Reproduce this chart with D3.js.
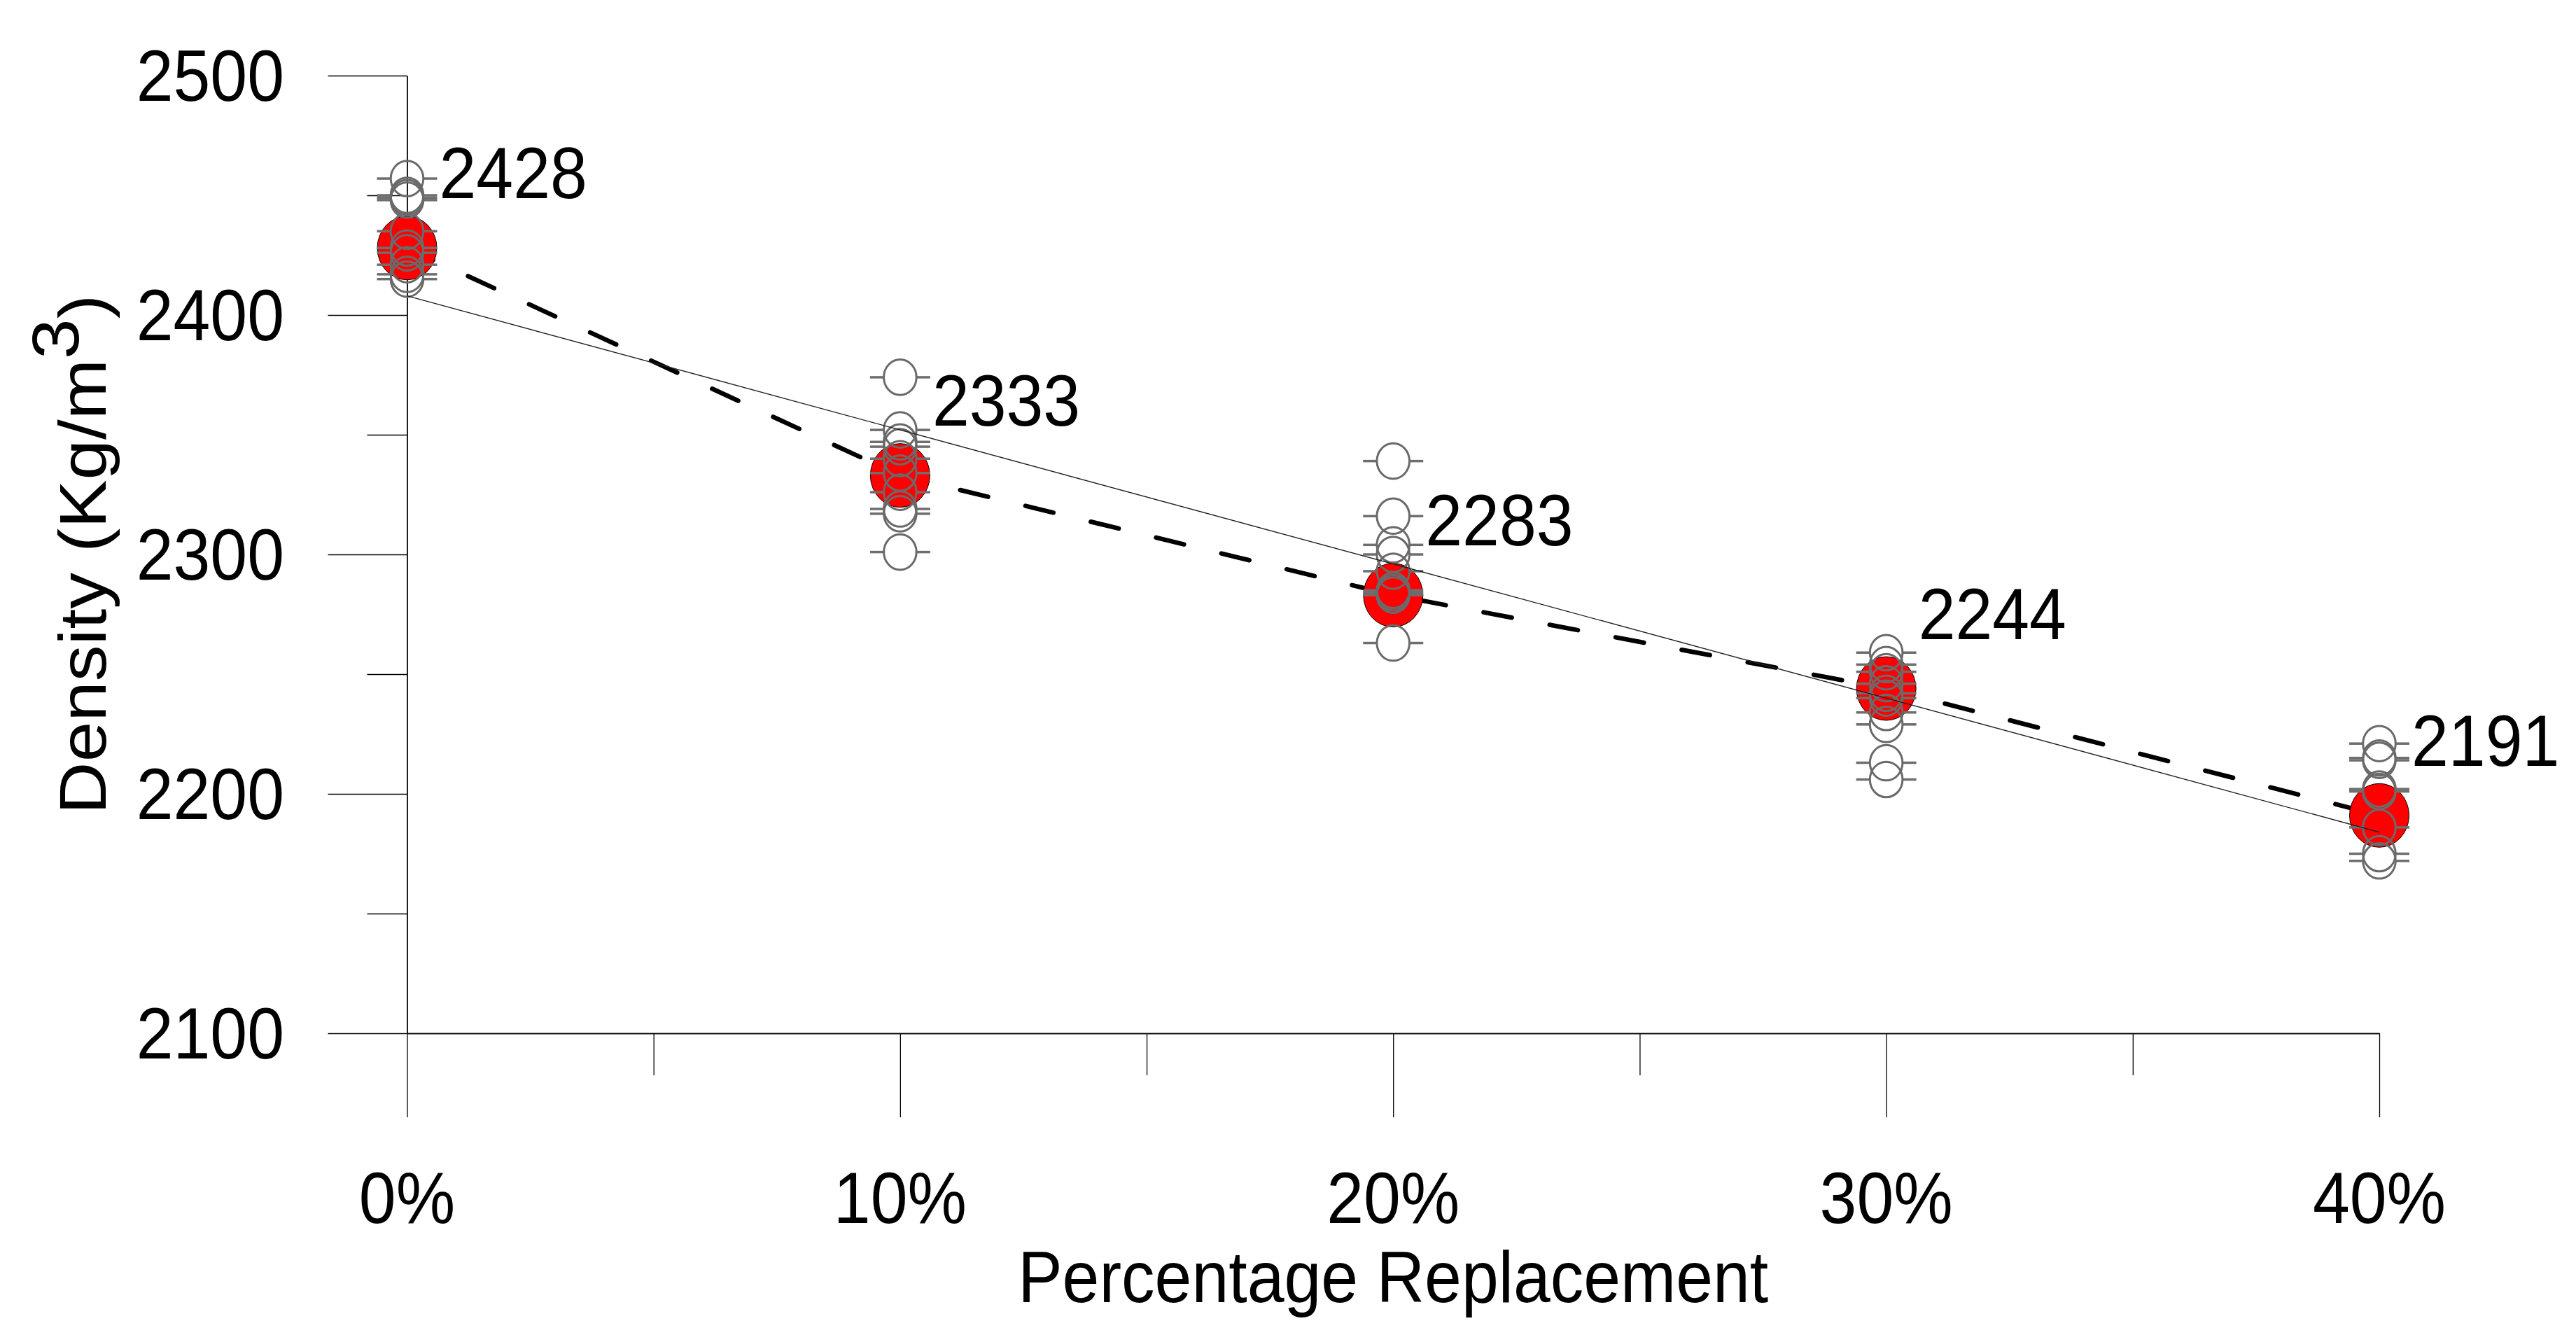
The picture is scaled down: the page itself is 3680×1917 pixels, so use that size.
<!DOCTYPE html>
<html>
<head>
<meta charset="utf-8">
<script src="https://cdn.jsdelivr.net/npm/d3@7"></script>
<style>
body { margin: 0; background: #fff; }
text { font-family: "Liberation Sans", Arial, sans-serif; fill: #000; }
</style>
</head>
<body>
<div id="chart"></div>
<script>
// percentage replacement (x) and mean density labels
var replacement = [0, 10, 20, 30, 40];
var xTickLabels = ["0%", "10%", "20%", "30%", "40%"];
var xMinor = [5, 15, 25, 35];
var meanDensity = [2428, 2333, 2283, 2244, 2191];

// individual specimen densities
var samples0 = [2457, 2450, 2449, 2448, 2435, 2428, 2426, 2421, 2417, 2415];
var samples10 = [2374, 2352, 2347, 2345, 2340, 2334, 2326, 2319, 2317, 2301];
var samples20 = [2339, 2316, 2304, 2300, 2293, 2285, 2284, 2283, 2263];
var samples30 = [2259, 2254, 2251, 2246, 2242, 2240, 2234, 2229, 2213, 2206];
var samples40 = [2221, 2215, 2214, 2202, 2201, 2186, 2175, 2172];

// thin linear trend line, value at 0% and at 40%
var trendEnds = [2408, 2184];

var yTicks = [2100, 2200, 2300, 2400, 2500];
var yMinor = [2150, 2250, 2350, 2450];

var W = 3680, H = 1917;
var sy = 1.09; // the original picture is stretched a little vertically
var fs = "95px";

var svg = d3.select("#chart").append("svg")
  .attr("width", W)
  .attr("height", H)
  .style("background", "#fff");

var x = d3.scaleLinear().domain([0, 40]).range([581.5, 3399]);
var y = d3.scaleLinear().domain([2100, 2500]).range([1476, 108]);

function styleAxis(g) {
  g.attr("color", "#000");
  g.selectAll("path, line").attr("stroke-width", 1.3);
}

// x axis: long major ticks, short minor ticks
svg.append("g")
  .attr("transform", "translate(0," + y(2100) + ")")
  .call(d3.axisBottom(x).tickValues(replacement).tickSize(120).tickSizeOuter(0).tickFormat(""))
  .call(styleAxis);
svg.append("g")
  .attr("transform", "translate(0," + y(2100) + ")")
  .call(d3.axisBottom(x).tickValues(xMinor).tickSize(60).tickSizeOuter(0).tickFormat(""))
  .call(styleAxis);

// y axis
svg.append("g")
  .attr("transform", "translate(" + x(0) + ",0)")
  .call(d3.axisLeft(y).tickValues(yTicks).tickSize(113).tickSizeOuter(0).tickFormat(""))
  .call(styleAxis);
svg.append("g")
  .attr("transform", "translate(" + x(0) + ",0)")
  .call(d3.axisLeft(y).tickValues(yMinor).tickSize(57).tickSizeOuter(0).tickFormat(""))
  .call(styleAxis);

// tick labels
svg.selectAll(".ylab").data(yTicks).enter().append("text")
  .attr("class", "ylab")
  .attr("transform", function(d) { return "translate(406," + (y(d) + 36) + ") scale(1," + sy + ")"; })
  .attr("text-anchor", "end")
  .style("font-size", fs)
  .text(function(d) { return d; });

svg.selectAll(".xlab").data(replacement).enter().append("text")
  .attr("class", "xlab")
  .attr("transform", function(d) { return "translate(" + x(d) + ",1747) scale(1," + sy + ")"; })
  .attr("text-anchor", "middle")
  .style("font-size", fs)
  .text(function(d, i) { return xTickLabels[i]; });

// axis titles
svg.append("text")
  .attr("transform", "translate(" + x(20) + ",1860) scale(1," + sy + ")")
  .attr("text-anchor", "middle")
  .style("font-size", fs)
  .text("Percentage Replacement");

var yt = svg.append("text")
  .attr("transform", "translate(151,792) scale(1," + sy + ") rotate(-90)")
  .attr("text-anchor", "middle")
  .style("font-size", fs);
yt.append("tspan").text("Density (Kg/m");
yt.append("tspan").attr("dy", -39).text("3");
yt.append("tspan").attr("dy", 39).text(")");

// dashed line through the means
var means = replacement.map(function(r, i) { return {x: r, y: meanDensity[i]}; });
svg.append("path")
  .datum(means)
  .attr("fill", "none")
  .attr("stroke", "#000")
  .attr("stroke-width", 6.5)
  .attr("stroke-linecap", "round")
  .attr("stroke-dasharray", "41,55")
  .attr("d", d3.line().x(function(d) { return x(d.x); }).y(function(d) { return y(d.y); }));

// red mean markers
svg.selectAll(".mean").data(means).enter().append("ellipse")
  .attr("class", "mean")
  .attr("cx", function(d) { return x(d.x); })
  .attr("cy", function(d) { return y(d.y); })
  .attr("rx", 42.5)
  .attr("ry", 45.5)
  .attr("fill", "#ff0000")
  .attr("stroke", "#000")
  .attr("stroke-width", 1);

// individual specimens: open circle with a short bar each side
var allSamples = [samples0, samples10, samples20, samples30, samples40];
var pts = [];
allSamples.forEach(function(arr, i) {
  arr.forEach(function(v) { pts.push({x: replacement[i], y: v}); });
});
var rx = 23.3, ry = 25.3, half = 43;

var sp = svg.selectAll(".sample").data(pts).enter().append("g")
  .attr("class", "sample")
  .attr("transform", function(d) { return "translate(" + x(d.x) + "," + y(d.y) + ")"; });
sp.append("line")
  .attr("x1", -half).attr("x2", -rx).attr("y1", 0).attr("y2", 0)
  .attr("stroke", "#6e6e6e").attr("stroke-width", 3.5);
sp.append("line")
  .attr("x1", rx).attr("x2", half).attr("y1", 0).attr("y2", 0)
  .attr("stroke", "#6e6e6e").attr("stroke-width", 3.5);
sp.append("ellipse")
  .attr("rx", rx).attr("ry", ry)
  .attr("fill", "none")
  .attr("stroke", "#6a6a6a")
  .attr("stroke-width", 3);

// thin trend line
svg.append("line")
  .attr("x1", x(0)).attr("y1", y(trendEnds[0]))
  .attr("x2", x(40)).attr("y2", y(trendEnds[1]))
  .attr("stroke", "#222")
  .attr("stroke-width", 1.4);

// mean value labels
svg.selectAll(".vlab").data(means).enter().append("text")
  .attr("class", "vlab")
  .attr("transform", function(d) { return "translate(" + (x(d.x) + 46) + "," + (y(d.y) - 71) + ") scale(1," + sy + ")"; })
  .style("font-size", fs)
  .text(function(d) { return d.y; });
</script>
</body>
</html>
